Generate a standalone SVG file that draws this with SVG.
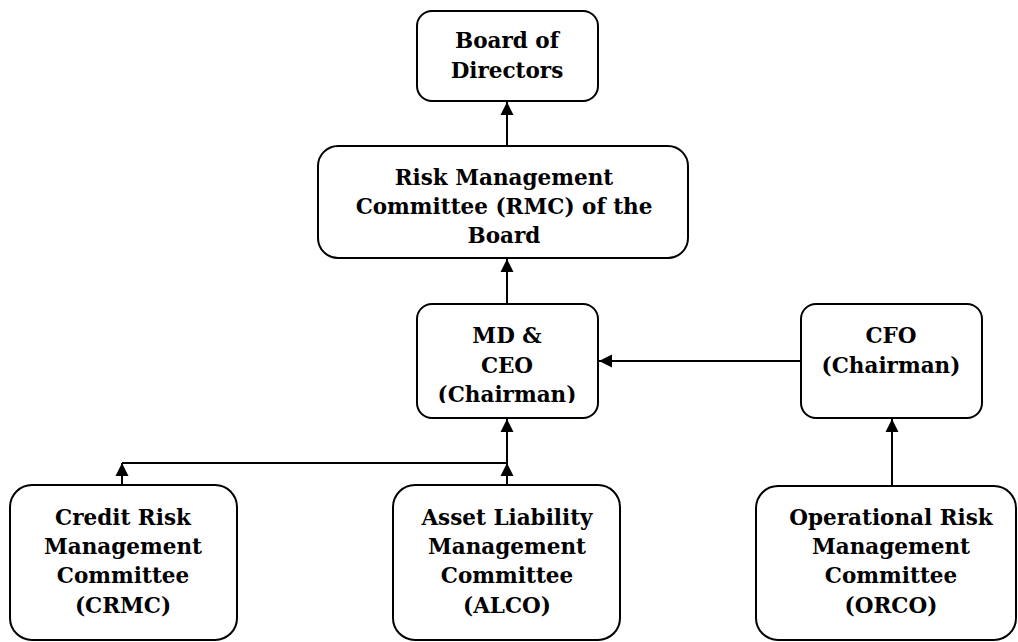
<svg xmlns="http://www.w3.org/2000/svg" width="1018" height="642" viewBox="0 0 1018 642">
  <style>
    .box { fill: #ffffff; stroke: #000000; stroke-width: 2; }
    .lbl { font-family: "DejaVu Serif", "Liberation Serif", serif; font-weight: bold; font-size: 21.5px; fill: #000000; text-anchor: middle; }
    .wire { fill: none; stroke: #000000; stroke-width: 2; }
  </style>
  <defs>
    <marker id="arrow" markerUnits="userSpaceOnUse" markerWidth="14" markerHeight="14" refX="13" refY="7" orient="auto">
      <path d="M0,0.5 L13,7 L0,13.5 z" fill="#000000"/>
    </marker>
    <clipPath id="clip-md">
      <rect x="418" y="305" width="179" height="98"/>
    </clipPath>
  </defs>
  <rect width="1018" height="642" fill="#ffffff"/>

  <!-- connectors -->
  <g id="connectors">
    <line class="wire" x1="507" y1="146" x2="507" y2="102" marker-end="url(#arrow)"/>
    <line class="wire" x1="507" y1="304" x2="507" y2="259" marker-end="url(#arrow)"/>
    <line class="wire" x1="801" y1="361" x2="599" y2="361" marker-end="url(#arrow)"/>
    <line class="wire" x1="892" y1="486" x2="892" y2="419" marker-end="url(#arrow)"/>
    <line class="wire" x1="507" y1="463" x2="507" y2="419" marker-end="url(#arrow)"/>
    <line class="wire" x1="507" y1="485" x2="507" y2="463" marker-end="url(#arrow)"/>
    <line class="wire" x1="122" y1="485" x2="122" y2="463" marker-end="url(#arrow)"/>
    <polyline class="wire" points="122,463 507,463"/>
  </g>

  <g id="board">
    <rect class="box" x="417" y="11" width="181" height="90" rx="15"/>
    <text class="lbl" x="507" y="48">Board of</text>
    <text class="lbl" x="507" y="78">Directors</text>
  </g>

  <g id="rmc">
    <rect class="box" x="318" y="146" width="370" height="112" rx="20"/>
    <text class="lbl" x="504" y="185">Risk Management</text>
    <text class="lbl" x="504" y="214">Committee (RMC) of the</text>
    <text class="lbl" x="504" y="243">Board</text>
  </g>

  <g id="md-ceo">
    <rect class="box" x="417" y="304" width="181" height="114" rx="15"/>
    <g clip-path="url(#clip-md)">
      <text class="lbl" x="507" y="343">MD &amp;</text>
      <text class="lbl" x="507" y="373">CEO</text>
      <text class="lbl" x="507" y="402">(Chairman)</text>
    </g>
  </g>

  <g id="cfo">
    <rect class="box" x="801" y="304" width="181" height="114" rx="15"/>
    <text class="lbl" x="891" y="343">CFO</text>
    <text class="lbl" x="891" y="373">(Chairman)</text>
  </g>

  <g id="crmc">
    <rect class="box" x="10" y="485" width="227" height="155" rx="22"/>
    <text class="lbl" x="123" y="525">Credit Risk</text>
    <text class="lbl" x="123" y="554">Management</text>
    <text class="lbl" x="123" y="583">Committee</text>
    <text class="lbl" x="123" y="613">(CRMC)</text>
  </g>

  <g id="alco">
    <rect class="box" x="393" y="485" width="227" height="155" rx="22"/>
    <text class="lbl" x="507" y="525">Asset Liability</text>
    <text class="lbl" x="507" y="554">Management</text>
    <text class="lbl" x="507" y="583">Committee</text>
    <text class="lbl" x="507" y="613">(ALCO)</text>
  </g>

  <g id="orco">
    <rect class="box" x="756" y="486" width="260" height="154" rx="22"/>
    <text class="lbl" x="891" y="525">Operational Risk</text>
    <text class="lbl" x="891" y="554">Management</text>
    <text class="lbl" x="891" y="583">Committee</text>
    <text class="lbl" x="891" y="613">(ORCO)</text>
  </g>
</svg>
